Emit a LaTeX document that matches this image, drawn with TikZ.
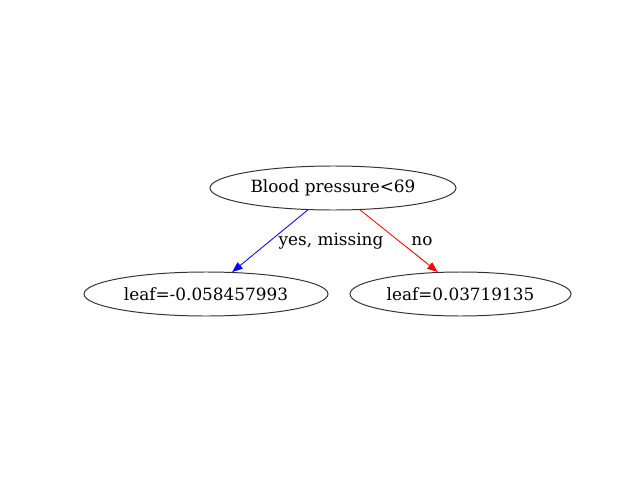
\documentclass[tikz,border=0pt]{standalone}
\usepackage{fontspec}
\setmainfont{DejaVu Serif}
\usepackage{xcolor}
\usetikzlibrary{shapes,arrows.meta,positioning}

\tikzset{
    treenode/.style={ellipse, draw=black!80, line width=0.7pt, minimum height=1.1cm, inner sep=0pt, font=\fontsize{12}{14}\selectfont},
    edgelbl/.style={font=\fontsize{12}{14}\selectfont, inner sep=0pt},
    branch/.style={line width=0.6pt, -{Triangle[length=0.26cm, width=0.2cm]}}
}

\begin{document}
\begin{tikzpicture}
    \useasboundingbox (0,0) rectangle (16,12);
    \node (root) [treenode, minimum width=6.15cm] at (8.325,7.3) {Blood pressure<69};
    \node (leafyes) [treenode, minimum width=6.1cm] at (5.15,4.65) {leaf=-0.058457993};
    \node (leafno) [treenode, minimum width=5.525cm] at (11.5125,4.65) {leaf=0.03719135};

    \node (yeslbl) [edgelbl] at (8.275,5.975) {yes, missing};
    \node (nolbl) [edgelbl] at (10.55,5.975) {no};

    \draw [branch, blue] (root.221) -- (leafyes.40);
    \draw [branch, red] (root.321) -- (leafno.136);
\end{tikzpicture}
\end{document}
